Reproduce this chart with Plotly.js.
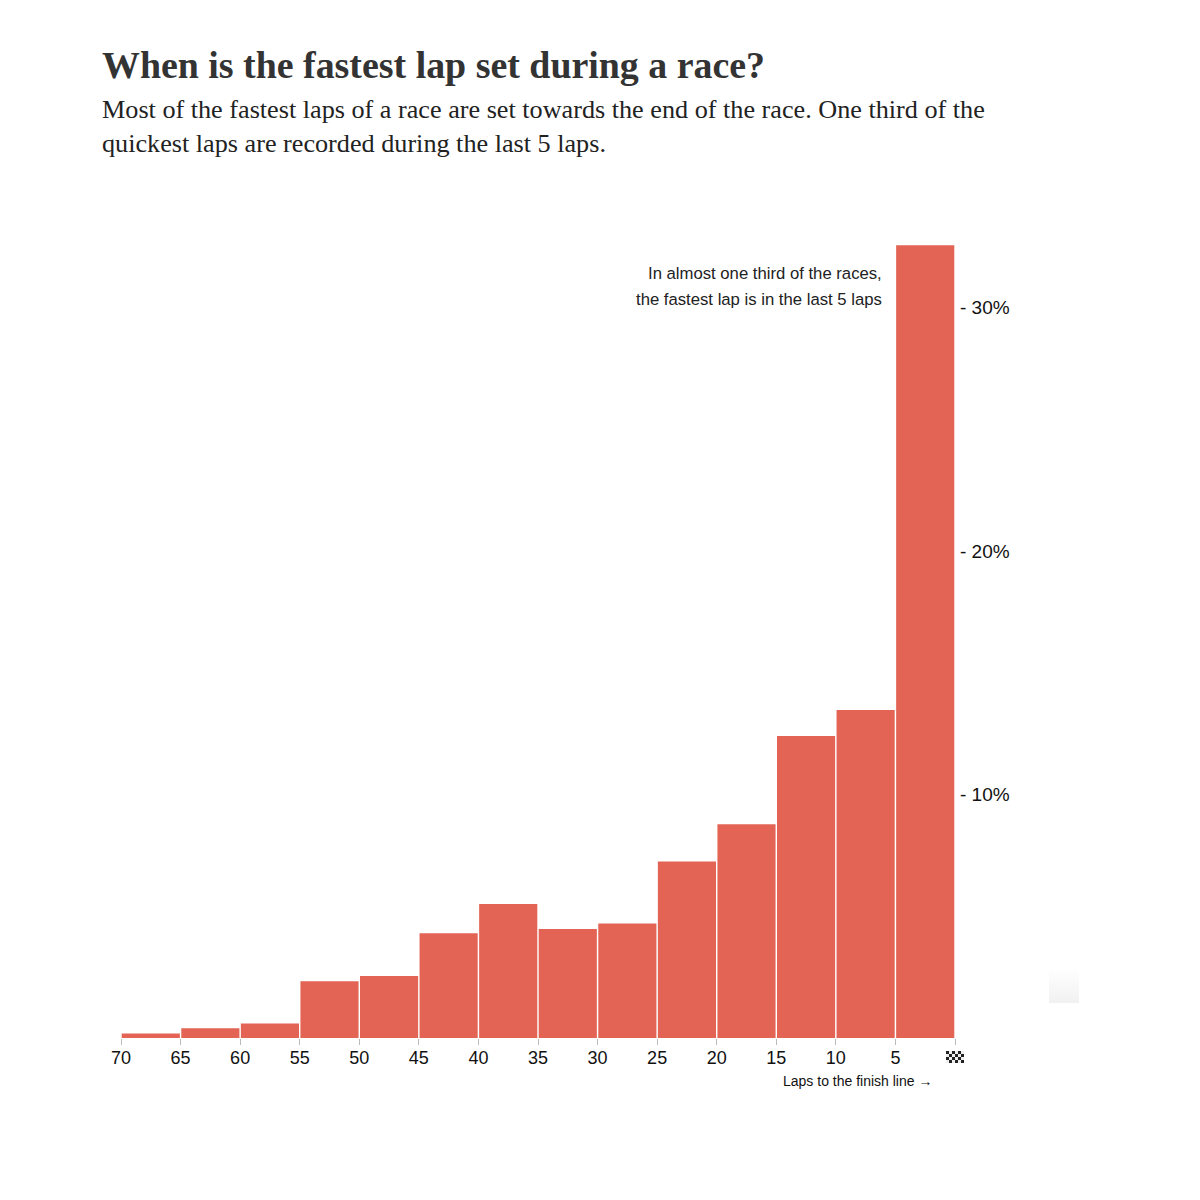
<!DOCTYPE html>
<html><head><meta charset="utf-8">
<script src="https://cdn.plot.ly/plotly-3.0.0.min.js"></script>
<style>html,body{margin:0;padding:0;background:#fff}</style></head>
<body><div id="chart" style="width:1200px;height:1200px"></div>
<script>
const lapBins = [67.5,62.5,57.5,52.5,47.5,42.5,37.5,32.5,27.5,22.5,17.5,12.5,7.5,2.5];
const sharePct = [0.18,0.4,0.6,2.33,2.55,4.3,5.5,4.48,4.7,7.25,8.78,12.4,13.47,32.55];
const xTickVals = [70,65,60,55,50,45,40,35,30,25,20,15,10,5,0];
const xTickText = ['70','65','60','55','50','45','40','35','30','25','20','15','10','5',' '];
const yTickVals = [10,20,30];
const yTickText = ['-\u00a010%','-\u00a020%','-\u00a030%'];
const titleText = 'When is the fastest lap set during a race?';
const subtitleLines = ['Most of the fastest laps of a race are set towards the end of the race. One third of the','quickest laps are recorded during the last 5 laps.'];
const noteLines = ['In almost one third of the races,','the fastest lap is in the last 5 laps'];
const xNote = 'Laps to the finish line →';

const W=1200,H=1200;
const mL=120.7,mR=245,mT=245,mB=162;
let cells='';
for(let r=0;r<4;r++)for(let c=0;c<6;c++){
  cells+=`<rect x="${c*3}" y="${r*3}" width="3" height="3" fill="${(r+c)%2?'#eee':'#222'}"/>`;
}
const flag='data:image/svg+xml;utf8,'+encodeURIComponent(`<svg xmlns="http://www.w3.org/2000/svg" width="18" height="12" viewBox="0 0 18 12">${cells}</svg>`);
const smudge='data:image/svg+xml;utf8,'+encodeURIComponent('<svg xmlns="http://www.w3.org/2000/svg" width="30" height="34"><defs><linearGradient id="g" x1="0" y1="0" x2="0" y2="1"><stop offset="0" stop-color="#fff"/><stop offset="1" stop-color="#f1f1f1"/></linearGradient></defs><rect width="30" height="34" fill="url(#g)"/></svg>');
const pw=W-mL-mR, ph=H-mT-mB;
const px=x=>(x-mL)/pw, py=y=>(H-mB-y)/ph;
const serif='"Liberation Serif", serif', sans='"Liberation Sans", Arial, sans-serif';
const annotations=[
 {text:subtitleLines[0],x:px(102),y:py(109),xanchor:'left',yanchor:'middle',font:{family:serif,size:26.2,color:'#222'}},
 {text:subtitleLines[1],x:px(102),y:py(144),xanchor:'left',yanchor:'middle',font:{family:serif,size:26.2,color:'#222'}},
 {text:noteLines[0],x:px(882),y:py(273),xanchor:'right',yanchor:'middle',font:{family:sans,size:16.7,color:'#222'}},
 {text:noteLines[1],x:px(882),y:py(299),xanchor:'right',yanchor:'middle',font:{family:sans,size:16.7,color:'#222'}},
 {text:xNote,x:px(932),y:py(1081),xanchor:'right',yanchor:'middle',font:{family:sans,size:14,color:'#111'}}
].map(a=>Object.assign({xref:'paper',yref:'paper',showarrow:false,borderpad:0,borderwidth:0},a));
Plotly.newPlot('chart',[{
  type:'bar',x:lapBins,y:sharePct,width:4.88,
  marker:{color:'#e36455',line:{width:0}},hoverinfo:'skip'
}],{
  width:W,height:H,showlegend:false,
  paper_bgcolor:'#fff',plot_bgcolor:'#fff',
  margin:{l:mL,r:mR,t:mT,b:mB,pad:0},
  title:{text:'<b>'+titleText+'</b>',x:102/W,xanchor:'left',xref:'container',y:1-65/H,yanchor:'middle',yref:'container',font:{family:serif,size:37.9,color:'#333'}},
  xaxis:{range:[70,0],tickmode:'array',tickvals:xTickVals,ticktext:xTickText,ticks:'outside',ticklen:6,tickwidth:1,tickcolor:'#bbb',ticklabelstandoff:-3,
    showgrid:false,zeroline:false,showline:false,tickfont:{family:sans,size:18,color:'#111'}},
  yaxis:{range:[0,32.56],side:'right',tickmode:'array',tickvals:yTickVals,ticktext:yTickText,ticks:'',ticklabelstandoff:4,
    showgrid:false,zeroline:false,showline:false,tickfont:{family:sans,size:19,color:'#111'}},
  annotations,
  images:[
    {source:flag,xref:'paper',yref:'paper',x:px(946),y:py(1051),sizex:18/pw,sizey:12/ph,xanchor:'left',yanchor:'top',sizing:'stretch',layer:'above'},
    {source:smudge,xref:'paper',yref:'paper',x:px(1049),y:py(969),sizex:30/pw,sizey:34/ph,xanchor:'left',yanchor:'top',sizing:'stretch',layer:'below'}
  ]
},{staticPlot:true,displayModeBar:false});
</script></body></html>
